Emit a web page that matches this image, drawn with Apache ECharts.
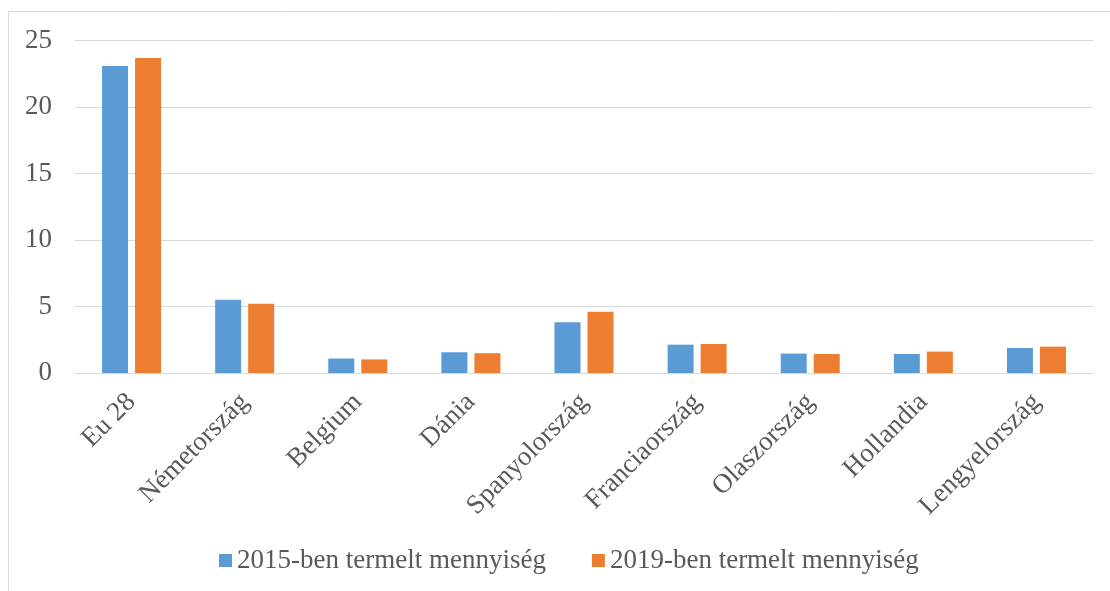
<!DOCTYPE html>
<html><head><meta charset="utf-8">
<script src="https://cdn.jsdelivr.net/npm/echarts@6/dist/echarts.min.js"></script>
<style>html,body{margin:0;padding:0;background:#fff}#c{width:1110px;height:591px}</style>
</head><body><div id="c"></div>
<script>
const categories = ['Eu 28','Németország','Belgium','Dánia','Spanyolország','Franciaország','Olaszország','Hollandia','Lengyelország'];
const seriesNames = ['2015-ben termelt mennyiség','2019-ben termelt mennyiség'];
const values2015 = [23.08, 5.5, 1.09, 1.56, 3.82, 2.13, 1.46, 1.43, 1.88];
const values2019 = [23.68, 5.2, 1.02, 1.49, 4.6, 2.18, 1.43, 1.61, 1.98];
const yTicks = [0, 5, 10, 15, 20, 25];

const chart = echarts.init(document.getElementById('c'), null, {renderer:'canvas'});
const font = 'Liberation Serif, Times New Roman, serif';
chart.setOption({
  animation:false,
  backgroundColor:'#fff',
  graphic:[{type:'rect', shape:{x:8.5,y:11.5,width:1120,height:600}, style:{fill:'none', stroke:'#d9d9d9', lineWidth:1}, silent:true}],
  grid:{left:75, right:17, top:40.5, bottom:218, containLabel:false},
  legend:{
    data:seriesNames, bottom:12, left:214, itemWidth:13, itemHeight:13, itemGap:46,
    icon:'rect', textStyle:{fontFamily:font, fontSize:27, color:'#595959'}
  },
  xAxis:{
    type:'category', data:categories,
    axisLine:{lineStyle:{color:'#d9d9d9', width:1}}, axisTick:{show:false},
    axisLabel:{rotate:45, interval:0, margin:25, fontFamily:font, fontSize:27, color:'#595959'}
  },
  yAxis:{
    type:'value', min:yTicks[0], max:yTicks[yTicks.length-1], interval:5,
    axisLine:{show:false}, axisTick:{show:false},
    splitLine:{lineStyle:{color:'#d9d9d9', width:1}},
    axisLabel:{margin:23, fontFamily:font, fontSize:27, color:'#595959'}
  },
  series:[
    {name:seriesNames[0], type:'bar', data:values2015, barWidth:26, barGap:'27%', itemStyle:{color:'#5b9bd5'}},
    {name:seriesNames[1], type:'bar', data:values2019, barWidth:26, barGap:'27%', itemStyle:{color:'#ed7d31'}}
  ]
});
</script></body></html>
